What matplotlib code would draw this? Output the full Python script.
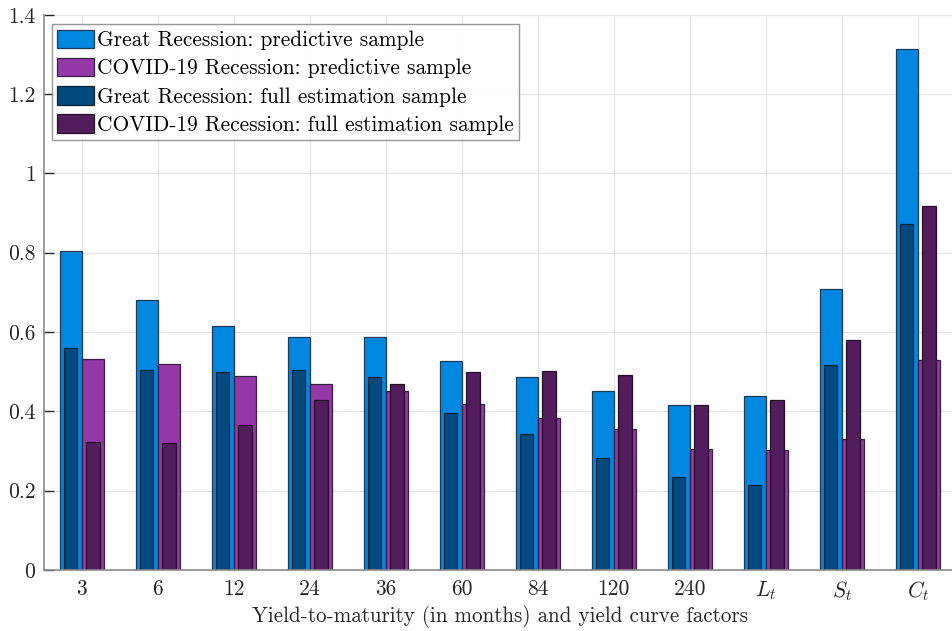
import numpy as np
import matplotlib
matplotlib.use("Agg")
import matplotlib.pyplot as plt

plt.rcParams['font.family'] = 'serif'
plt.rcParams['font.serif'] = ['cmr10', 'DejaVu Serif']
plt.rcParams['mathtext.fontset'] = 'cm'
plt.rcParams['axes.formatter.use_mathtext'] = True

categories = ['3', '6', '12', '24', '36', '60', '84', '120', '240',
              r'$L_t$', r'$S_t$', r'$C_t$']

great_pred = [0.804, 0.681, 0.616, 0.588, 0.588, 0.527, 0.487, 0.450, 0.415, 0.438, 0.709, 1.314]
covid_pred = [0.531, 0.519, 0.490, 0.469, 0.452, 0.419, 0.384, 0.354, 0.305, 0.303, 0.330, 0.530]
great_full = [0.559, 0.505, 0.500, 0.505, 0.487, 0.396, 0.342, 0.282, 0.234, 0.214, 0.516, 0.873]
covid_full = [0.323, 0.321, 0.366, 0.429, 0.469, 0.500, 0.501, 0.492, 0.415, 0.428, 0.579, 0.918]

labels = ['Great Recession: predictive sample',
          'COVID-19 Recession: predictive sample',
          'Great Recession: full estimation sample',
          'COVID-19 Recession: full estimation sample']

c_gp, e_gp = '#0088e0', '#1c3a55'
c_cp, e_cp = '#9438a8', '#3a1f44'
c_gf, e_gf = '#004a7f', '#0a2438'
c_cf, e_cf = '#531c5c', '#24102a'

fig = plt.figure(figsize=(9.52, 6.31), dpi=100)
ax = fig.add_axes([0.046, 0.097, 0.958, 0.8795])

x = np.arange(1, len(categories) + 1)
wide = 0.29
narrow = 0.176
off = wide / 2

b1 = ax.bar(x - off, great_pred, wide, color=c_gp, edgecolor=e_gp, linewidth=0.9, label=labels[0], zorder=2)
b2 = ax.bar(x + off, covid_pred, wide, color=c_cp, edgecolor=e_cp, linewidth=0.9, label=labels[1], zorder=2)
b3 = ax.bar(x - off, great_full, narrow, color=c_gf, edgecolor=e_gf, linewidth=0.9, label=labels[2], zorder=3)
b4 = ax.bar(x + off, covid_full, narrow, color=c_cf, edgecolor=e_cf, linewidth=0.9, label=labels[3], zorder=3)

ax.set_xlim(0.5, 12.5)
ax.set_ylim(0, 1.4)
ax.set_xticks(x)
ax.set_xticklabels(categories)
ax.set_yticks(np.arange(0, 1.41, 0.2))
ax.set_yticklabels(['0', '0.2', '0.4', '0.6', '0.8', '1', '1.2', '1.4'])
ax.tick_params(axis='both', direction='in', labelsize=15.5, colors='#262626', length=7, width=1)
ax.tick_params(axis='x', pad=7)
ax.tick_params(axis='y', pad=6)
for t in ax.get_xticklines() + ax.get_yticklines():
    t.set_color('#7f7f7f')

ax.grid(True, color='#e6e6e6', linewidth=0.9, zorder=0)
ax.set_axisbelow(True)
for s in ['top', 'right']:
    ax.spines[s].set_visible(False)
for s in ['left', 'bottom']:
    ax.spines[s].set_color('#8a8a8a')
    ax.spines[s].set_linewidth(1.2)
    ax.spines[s].set_zorder(4)

ax.set_xlabel('Yield-to-maturity (in months) and yield curve factors', fontsize=15.2, color='#262626', labelpad=1)

leg = ax.legend(handles=[b1, b2, b3, b4], loc='upper left', bbox_to_anchor=(0.009, 0.983),
                fontsize=15.4, frameon=True, fancybox=False, edgecolor='#7f7f7f',
                handlelength=1.7, handleheight=0.95, handletextpad=0.15, labelspacing=0.36,
                borderpad=0.25, borderaxespad=0.0)
leg.get_frame().set_linewidth(1.0)

fig.savefig('out.png', dpi=100, facecolor='white')
